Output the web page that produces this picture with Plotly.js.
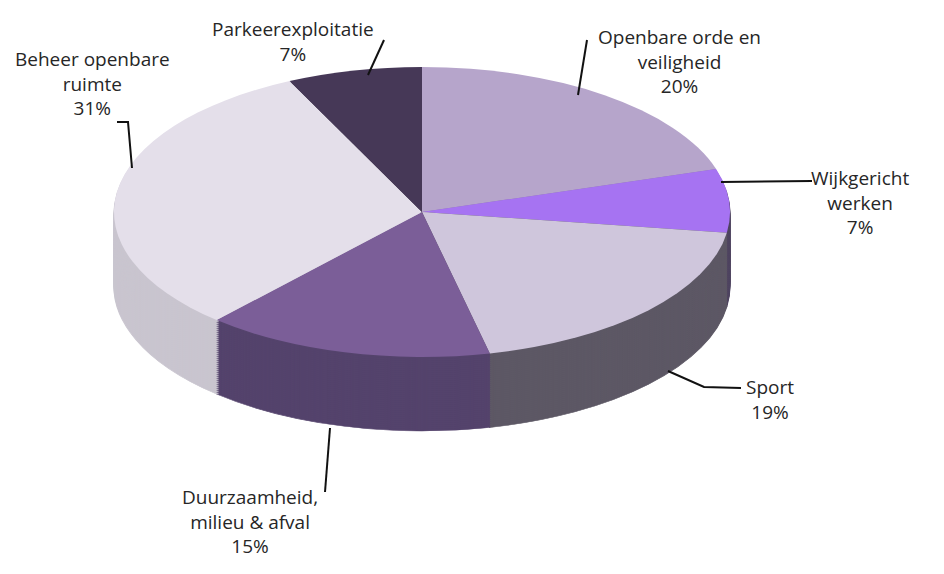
<!DOCTYPE html>
<html>
<head>
<meta charset="utf-8">
<script src="https://cdn.plot.ly/plotly-3.0.1.min.js"></script>
<style>html,body{margin:0;padding:0;background:#fff;}#chart{width:944px;height:574px;}</style>
</head>
<body>
<div id="chart"></div>
<script>
// ---- data ----
var categories = ["Openbare orde en veiligheid", "Wijkgericht werken", "Sport", "Duurzaamheid, milieu & afval", "Beheer openbare ruimte", "Parkeerexploitatie"];
var labelText = ["Openbare orde en<br>veiligheid", "Wijkgericht<br>werken", "Sport", "Duurzaamheid,<br>milieu & afval", "Beheer openbare<br>ruimte", "Parkeerexploitatie"];
var shares = [20, 7, 19, 15, 31, 7];
var topColors = ["#B6A5CB", "#A673F2", "#CFC6DC", "#7B5E98", "#E4DFEA", "#463857"];
var sideColors = ["#8C7DA2", "#4F4460", "#5D5865", "#54436C", "#C9C5CF", "#30263C"];

// ---- styling / geometry of the tilted disc (pixels) ----
var W = 944, H = 574;
var disc = {cx: 422, cy: 212, rx: 308, ry: 145, depth: 74, layers: 37};

var traces = [];
for (var k = disc.layers; k >= 0; k--) {
  var isTop = (k === 0);
  var cols = isTop ? topColors : sideColors;
  traces.push({
    type: "pie",
    labels: categories,
    values: shares,
    sort: false,
    direction: "clockwise",
    rotation: 0,
    marker: {colors: cols, line: {color: cols, width: isTop ? 0 : 1}},
    textinfo: "none",
    hoverinfo: "label+value",
    showlegend: false,
    domain: {x: [0, 1], y: [0, 1]},
    meta: k
  });
}

// label positions (block centres, px) and leader lines (px)
var labelPos = [[679, 61], [860, 202], [770, 399], [250, 521], [92, 83], [293, 42]];
var leaders = [
  [[578, 95], [587, 40]],
  [[721, 182], [812, 181]],
  [[668, 371], [704, 387], [741, 388]],
  [[330, 428], [325, 492]],
  [[117, 122], [128, 122], [132, 168]],
  [[368, 75], [384, 40]]
];
function px(x) { return x / W; }
function py(y) { return 1 - y / H; }

var annotations = categories.map(function (c, i) {
  return {
    xref: "paper", yref: "paper",
    x: px(labelPos[i][0]), y: py(labelPos[i][1]),
    xanchor: "center", yanchor: "middle", align: "center",
    showarrow: false,
    text: labelText[i] + "<br>" + shares[i] + "%",
    font: {family: "Open Sans, sans-serif", size: 19, color: "#262626"}
  };
});

var shapes = leaders.map(function (pts) {
  var d = pts.map(function (p, j) { return (j ? "L" : "M") + px(p[0]) + "," + py(p[1]); }).join(" ");
  return {type: "path", xref: "paper", yref: "paper", path: d, line: {color: "#111", width: 2}};
});

var layout = {
  width: W, height: H,
  margin: {l: 0, r: 0, t: 0, b: 0},
  paper_bgcolor: "#fff",
  showlegend: false,
  annotations: annotations,
  shapes: shapes
};

Plotly.newPlot("chart", traces, layout, {displayModeBar: false, staticPlot: true}).then(function (gd) {
  // tilt each pie into an ellipse and stack the side layers downward
  var groups = gd.querySelectorAll(".pielayer g.trace");
  groups.forEach(function (g, i) {
    var cd0 = gd.calcdata[i][0];
    var k = gd.data[i].meta;
    var sx = disc.rx / cd0.r, sy = disc.ry / cd0.r;
    var dy = disc.depth * k / disc.layers;
    var t = "translate(" + disc.cx + "," + (disc.cy + dy) + ") scale(" + sx + "," + sy + ") translate(" + (-cd0.cx) + "," + (-cd0.cy) + ")";
    var old = g.getAttribute("transform");
    g.setAttribute("transform", t + (old ? " " + old : ""));
  });
});
</script>
</body>
</html>
